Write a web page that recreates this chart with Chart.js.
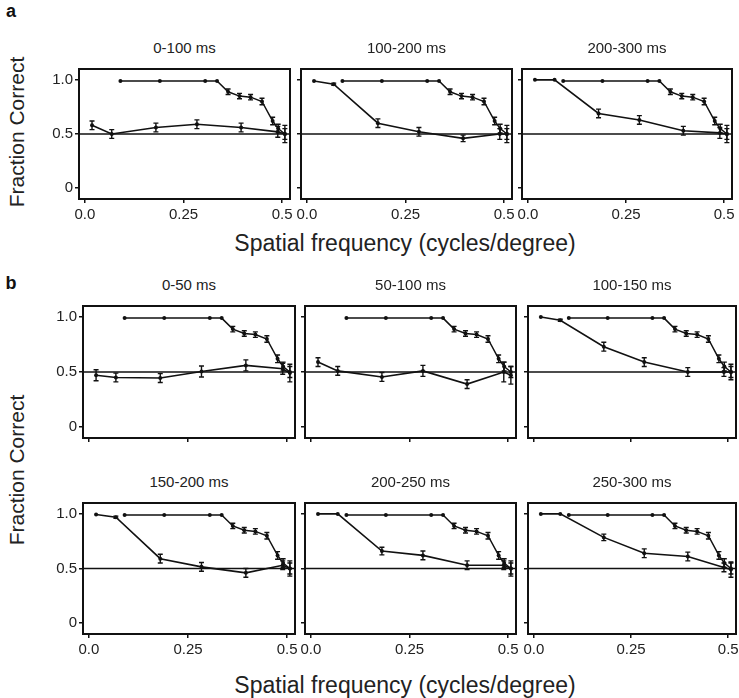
<!DOCTYPE html>
<html><head><meta charset="utf-8">
<script src="https://cdn.jsdelivr.net/npm/chart.js@4.4.0/dist/chart.umd.min.js"></script>
<style>
html,body{margin:0;padding:0;background:#fff;}
#fig{position:relative;width:739px;height:698px;overflow:hidden;font-family:'Liberation Sans',Arial,Helvetica,sans-serif;color:#222;}
canvas{position:absolute;}
.t{position:absolute;transform:translate(-50%,-50%);white-space:nowrap;}
</style></head><body><div id="fig"></div>
<script>
// ---- data ----
const xTickValues = [0, 0.25, 0.5];
const xTickLabels = ['0.0', '0.25', '0.5'];
const yTickValues = [0, 0.5, 1];
const yTickLabels = ['0', '0.5', '1.0'];
const chanceLevel = 0.5;

const freqControl = [0.09, 0.19, 0.305, 0.335, 0.363, 0.392, 0.42, 0.449, 0.476, 0.49, 0.507];
const fracControl = [0.99, 0.99, 0.99, 0.99, 0.89, 0.85, 0.84, 0.80, 0.62, 0.55, 0.50];
const errControl  = [0, 0, 0, 0, 0.025, 0.025, 0.025, 0.03, 0.035, 0.04, 0.05];

const freqTest = [0.018, 0.068, 0.18, 0.284, 0.396, 0.489, 0.507];

const frac_0_100   = [0.58, 0.50, 0.56, 0.59, 0.56, 0.52, 0.50];
const err_0_100    = [0.04, 0.04, 0.04, 0.04, 0.04, 0.05, 0.08];
const frac_100_200 = [0.99, 0.96, 0.60, 0.52, 0.46, 0.50, 0.50];
const err_100_200  = [0, 0.01, 0.04, 0.04, 0.03, 0.05, 0.08];
const frac_200_300 = [1.0, 1.0, 0.69, 0.63, 0.53, 0.51, 0.50];
const err_200_300  = [0, 0, 0.04, 0.04, 0.04, 0.05, 0.08];
const frac_0_50    = [0.47, 0.45, 0.445, 0.505, 0.56, 0.53, 0.49];
const err_0_50     = [0.05, 0.04, 0.04, 0.05, 0.05, 0.05, 0.08];
const frac_50_100  = [0.59, 0.51, 0.455, 0.51, 0.39, 0.50, 0.47];
const err_50_100   = [0.04, 0.04, 0.04, 0.05, 0.04, 0.09, 0.08];
const frac_100_150 = [1.0, 0.97, 0.73, 0.59, 0.50, 0.50, 0.50];
const err_100_150  = [0, 0.01, 0.04, 0.04, 0.04, 0.04, 0.07];
const frac_150_200 = [0.995, 0.97, 0.59, 0.515, 0.46, 0.53, 0.50];
const err_150_200  = [0, 0.01, 0.04, 0.04, 0.04, 0.04, 0.07];
const frac_200_250 = [1.0, 1.0, 0.66, 0.62, 0.53, 0.53, 0.50];
const err_200_250  = [0, 0, 0.035, 0.04, 0.04, 0.04, 0.07];
const frac_250_300 = [1.0, 1.0, 0.785, 0.64, 0.61, 0.51, 0.49];
const err_250_300  = [0, 0, 0.03, 0.04, 0.04, 0.04, 0.07];

const panelTitles = ['0-100 ms', '100-200 ms', '200-300 ms', '0-50 ms', '50-100 ms', '100-150 ms', '150-200 ms', '200-250 ms', '250-300 ms'];
const panelFracs = [frac_0_100, frac_100_200, frac_200_300, frac_0_50, frac_50_100, frac_100_150, frac_150_200, frac_200_250, frac_250_300];
const panelErrs  = [err_0_100, err_100_200, err_200_300, err_0_50, err_50_100, err_100_150, err_150_200, err_200_250, err_250_300];

const yAxisTitle = 'Fraction Correct';
const xAxisTitle = 'Spatial frequency (cycles/degree)';

// ---- layout ----
const FONT = "'Liberation Sans', Arial, Helvetica, sans-serif";
const rows = [
  {top: 66,  h: 133, xLabels: true,  cols: [[79, 211], [301, 211], [522, 210]]},
  {top: 303, h: 135, xLabels: false, cols: [[83, 212], [305, 211], [528, 208]]},
  {top: 500, h: 134, xLabels: true,  cols: [[83, 212], [305, 211], [528, 208]]}
];

const fig = document.getElementById('fig');
function addText(txt, x, y, css) {
  const d = document.createElement('div');
  d.className = 't';
  d.textContent = txt;
  d.style.left = x + 'px';
  d.style.top = y + 'px';
  Object.assign(d.style, css || {});
  fig.appendChild(d);
  return d;
}

const errorBars = {
  id: 'errorBars',
  afterDatasetsDraw(chart) {
    const ctx = chart.ctx, xs = chart.scales.x, ys = chart.scales.y;
    chart.data.datasets.forEach(ds => {
      if (!ds.errors) return;
      ctx.save();
      ctx.strokeStyle = '#111';
      ctx.lineWidth = 1.4;
      ds.data.forEach((p, k) => {
        const e = ds.errors[k];
        if (!e) return;
        const px = xs.getPixelForValue(p.x);
        const y1 = ys.getPixelForValue(p.y - e), y2 = ys.getPixelForValue(p.y + e);
        ctx.beginPath();
        ctx.moveTo(px, y1); ctx.lineTo(px, y2);
        ctx.moveTo(px - 2.5, y1); ctx.lineTo(px + 2.5, y1);
        ctx.moveTo(px - 2.5, y2); ctx.lineTo(px + 2.5, y2);
        ctx.stroke();
      });
      ctx.restore();
    });
  }
};

const frame = {
  id: 'frame',
  beforeDatasetsDraw(chart) {
    const ctx = chart.ctx, a = chart.chartArea, ys = chart.scales.y;
    const py = ys.getPixelForValue(chanceLevel);
    ctx.save();
    ctx.strokeStyle = '#111';
    ctx.lineWidth = 1.3;
    ctx.beginPath(); ctx.moveTo(a.left, py); ctx.lineTo(a.right, py); ctx.stroke();
    ctx.restore();
  },
  afterDraw(chart) {
    const ctx = chart.ctx, a = chart.chartArea;
    ctx.save();
    ctx.strokeStyle = '#111';
    ctx.lineWidth = 2;
    ctx.strokeRect(a.left, a.top, a.right - a.left, a.bottom - a.top);
    ctx.restore();
  }
};

function makePanel(i) {
  const r = Math.floor(i / 3), c = i % 3;
  const row = rows[r], col = row.cols[c];
  const yW = c === 0 ? 34 : 8, xH = 26, pT = 8, pR = 16;
  const W = col[1] + yW + pR, H = row.h + pT + xH;
  const cv = document.createElement('canvas');
  cv.width = W; cv.height = H;
  cv.style.left = (col[0] - yW) + 'px';
  cv.style.top = (row.top - pT) + 'px';
  cv.style.width = W + 'px'; cv.style.height = H + 'px';
  fig.appendChild(cv);

  addText(panelTitles[i], col[0] + col[1] / 2, row.top - 19, {fontSize: '15px'});

  const control = freqControl.map((x, k) => ({x, y: fracControl[k]}));
  const test = freqTest.map((x, k) => ({x, y: panelFracs[i][k]}));

  new Chart(cv, {
    type: 'scatter',
    data: {
      datasets: [
        {data: control, errors: errControl, showLine: true, borderColor: '#111', borderWidth: 1.5,
         pointRadius: 2, pointBackgroundColor: '#111', pointBorderWidth: 0, tension: 0},
        {data: test, errors: panelErrs[i], showLine: true, borderColor: '#111', borderWidth: 1.6,
         pointRadius: 2, pointBackgroundColor: '#111', pointBorderWidth: 0, tension: 0}
      ]
    },
    options: {
      responsive: false, animation: false, devicePixelRatio: 1,
      layout: {padding: {top: pT, right: pR, left: 0, bottom: 0}},
      plugins: {legend: {display: false}, tooltip: {enabled: false}},
      scales: {
        x: {
          type: 'linear', min: -0.015, max: 0.52,
          afterBuildTicks: s => { s.ticks = xTickValues.map(v => ({value: v})); },
          afterFit: s => { s.height = xH; },
          ticks: {
            autoSkip: false, maxRotation: 0, padding: 3, color: '#222',
            font: {size: 15, family: FONT},
            callback: v => row.xLabels ? xTickLabels[xTickValues.indexOf(v)] : ''
          },
          grid: {display: true, drawOnChartArea: false, drawTicks: true, tickLength: 4, color: '#111', lineWidth: 1.5},
          border: {display: false}
        },
        y: {
          type: 'linear', min: -0.1, max: 1.1,
          afterBuildTicks: s => { s.ticks = yTickValues.map(v => ({value: v})); },
          afterFit: s => { s.width = yW; },
          ticks: {
            autoSkip: false, padding: 2, color: '#222',
            font: {size: 15, family: FONT},
            callback: v => c === 0 ? yTickLabels[yTickValues.indexOf(v)] : ''
          },
          grid: {display: true, drawOnChartArea: false, drawTicks: true, tickLength: 4, color: '#111', lineWidth: 1.5},
          border: {display: false}
        }
      }
    },
    plugins: [frame, errorBars]
  });
}

for (let i = 0; i < 9; i++) makePanel(i);

// axis titles and panel letters
addText(yAxisTitle, 17, 132, {fontSize: '21px', transform: 'translate(-50%,-50%) rotate(-90deg)'});
addText(yAxisTitle, 17, 470, {fontSize: '21px', transform: 'translate(-50%,-50%) rotate(-90deg)'});
addText(xAxisTitle, 405, 243, {fontSize: '23px'});
addText(xAxisTitle, 405, 685, {fontSize: '23px'});
addText('a', 11, 11, {fontSize: '18px', fontWeight: 'bold', color: '#111'});
addText('b', 11, 283, {fontSize: '18px', fontWeight: 'bold', color: '#111'});
</script>
</body></html>
